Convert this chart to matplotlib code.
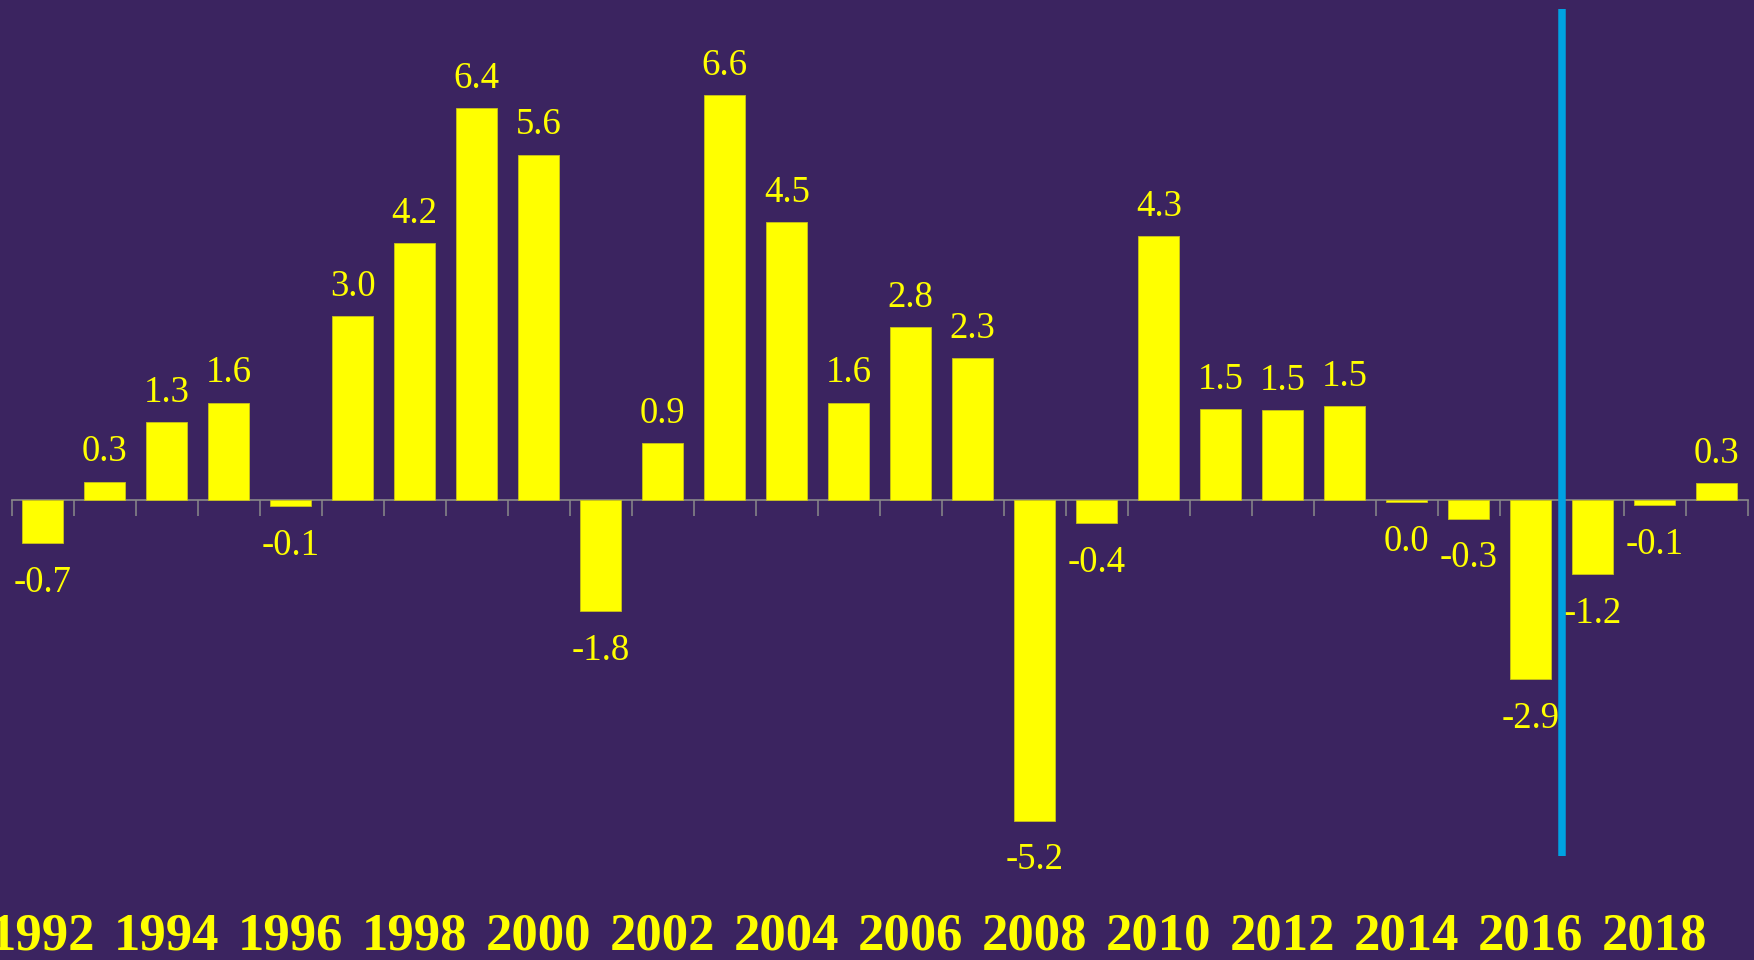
import numpy as np
import matplotlib
matplotlib.use("Agg")
import matplotlib.pyplot as plt
import matplotlib.transforms as mtransforms

# data
years = [1992, 1993, 1994, 1995, 1996, 1997, 1998, 1999, 2000, 2001,
         2002, 2003, 2004, 2005, 2006, 2007, 2008, 2009, 2010, 2011,
         2012, 2013, 2014, 2015, 2016, 2017, 2018, 2019]
values = [-0.7, 0.3, 1.27, 1.58, -0.1, 2.98, 4.17, 6.36, 5.6, -1.8,
          0.93, 6.57, 4.5, 1.58, 2.8, 2.3, -5.2, -0.38, 4.28, 1.47,
          1.46, 1.53, -0.03, -0.3, -2.9, -1.2, -0.08, 0.28]
tick_labels = ['1992', '1994', '1996', '1998', '2000', '2002', '2004',
               '2006', '2008', '2010', '2012', '2014', '2016', '2018']
split_after = 2016

bg = '#3b2460'
yellow = '#ffff00'
blue = '#00a2e2'
grey = '#8a8a8a'
font = 'Liberation Serif'

fig = plt.figure(figsize=(17.54, 9.6), dpi=100, facecolor=bg)
ax = fig.add_axes([11.7 / 1754, 104 / 960, 1736 / 1754, 847 / 960])
ax.set_facecolor(bg)

x = np.arange(len(years))
ax.bar(x, values, width=0.67, color=yellow, edgecolor='#c9c21a', linewidth=0.6, zorder=3)

# value labels, one decimal
for xi, v in zip(x, values):
    txt = f'{v:.1f}' if round(v, 1) != 0 else '0.0'
    if v > 0:
        ax.annotate(txt, (xi, v), xytext=(0, 14.5), textcoords='offset points',
                    ha='center', va='baseline', color=yellow, fontsize=26.5, family=font)
    else:
        ax.annotate(txt, (xi, v), xytext=(0, -35), textcoords='offset points',
                    ha='center', va='baseline', color=yellow, fontsize=26.5, family=font)

# vertical separator
ax.axvline(years.index(split_after) + 0.5, color=blue, linewidth=5.4, zorder=4)

ax.set_xlim(-0.5, len(years) - 0.5)
ax.set_ylim(-5.77, 7.96)

for s in ['top', 'right', 'left']:
    ax.spines[s].set_visible(False)
ax.spines['bottom'].set_position(('data', 0))
ax.spines['bottom'].set_color(grey)
ax.spines['bottom'].set_linewidth(1.2)
ax.set_yticks([])
ax.set_xticks([])
ax.set_xticks(np.arange(len(years) + 1) - 0.5, minor=True)
ax.tick_params(axis='x', which='minor', direction='out', length=11.5, width=1.1,
               color=grey, labelbottom=False)

# year labels along the bottom of the figure
trans = mtransforms.blended_transform_factory(ax.transData, fig.transFigure)
for lab in tick_labels:
    ax.text(years.index(int(lab)), 10 / 960, lab, transform=trans, ha='center',
            va='baseline', color=yellow, fontsize=38, fontweight='bold',
            family=font, clip_on=False)

fig.savefig('out.png', dpi=100, facecolor=bg)
